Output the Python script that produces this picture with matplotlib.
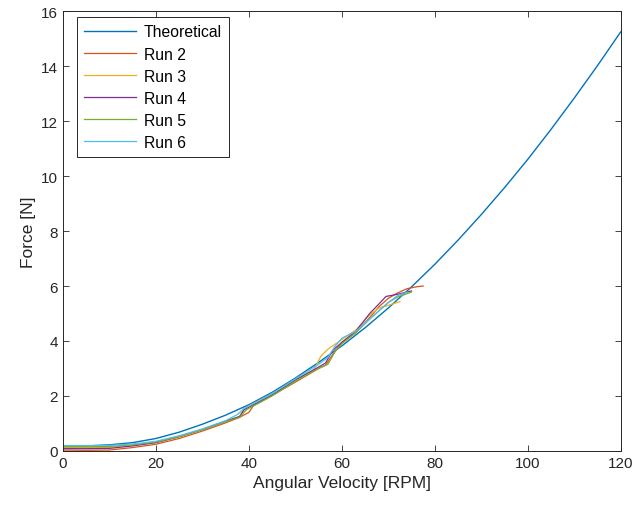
import matplotlib
matplotlib.use('Agg')
import matplotlib.pyplot as plt

# theoretical curve, read every 5 RPM
theo_w = [0, 5, 10, 15, 20, 25, 30, 35, 40, 45, 50, 55, 60, 65, 70, 75, 80,
          85, 90, 95, 100, 105, 110, 115, 120]
theo_f = [0.17, 0.18, 0.22, 0.30, 0.45, 0.68, 0.97, 1.30, 1.68, 2.13, 2.65,
          3.22, 3.82, 4.48, 5.20, 5.97, 6.79, 7.67, 8.60, 9.58, 10.61, 11.70,
          12.84, 14.02, 15.25]

run2_w = [0, 5, 10, 15, 20, 25, 30, 35, 38, 40, 41, 45, 50, 55, 56.5, 58, 60,
          63, 66, 68, 70, 72, 74, 76, 77.5]
run2_f = [0.03, 0.02, 0.03, 0.12, 0.24, 0.45, 0.72, 1.02, 1.22, 1.40, 1.65,
          2.02, 2.50, 3.00, 3.12, 3.50, 3.95, 4.30, 4.85, 5.25, 5.55, 5.75,
          5.90, 5.97, 6.0]

run3_w = [0, 5, 10, 15, 20, 25, 30, 35, 38, 39, 45, 50, 54, 55.5, 57, 60, 63,
          66, 68, 70, 72.5]
run3_f = [0.12, 0.12, 0.13, 0.20, 0.30, 0.50, 0.78, 1.08, 1.25, 1.55, 2.08,
          2.58, 2.95, 3.45, 3.70, 4.05, 4.40, 4.95, 5.20, 5.30, 5.43]

run4_w = [0, 5, 10, 15, 20, 25, 30, 35, 38, 39, 45, 50, 55, 56.5, 58, 60, 63,
          66, 68, 69.5, 72, 75]
run4_f = [0.08, 0.08, 0.09, 0.18, 0.30, 0.52, 0.78, 1.08, 1.25, 1.50, 2.03,
          2.58, 3.05, 3.20, 3.65, 3.95, 4.35, 5.00, 5.35, 5.62, 5.70, 5.82]

run5_w = [0, 5, 10, 15, 20, 25, 30, 35, 38, 39.5, 45, 50, 55, 57, 58.5, 60,
          63, 66, 68, 70, 72, 75]
run5_f = [0.15, 0.15, 0.16, 0.22, 0.32, 0.52, 0.77, 1.06, 1.22, 1.50, 2.00,
          2.53, 3.00, 3.15, 3.60, 3.90, 4.30, 4.80, 5.10, 5.40, 5.60, 5.78]

run6_w = [0, 5, 10, 15, 20, 25, 30, 35, 37.5, 39, 45, 50, 55, 57, 58.5, 60,
          63, 66, 68, 70, 72, 74]
run6_f = [0.19, 0.19, 0.20, 0.25, 0.35, 0.55, 0.80, 1.10, 1.32, 1.55, 2.08,
          2.62, 3.15, 3.40, 3.80, 4.10, 4.35, 4.80, 5.10, 5.40, 5.65, 5.78]

plt.rcParams['font.family'] = ['Liberation Sans', 'DejaVu Sans']

fig = plt.figure(figsize=(6.36, 5.10), dpi=100)
ax = fig.add_axes([0.099, 0.114, 0.877, 0.862])

ax.plot(theo_w, theo_f, color='#0072BD', lw=1.0, label='Theoretical')
ax.plot(run2_w, run2_f, color='#D95319', lw=0.9, label='Run 2')
ax.plot(run3_w, run3_f, color='#EDB120', lw=0.9, label='Run 3')
ax.plot(run4_w, run4_f, color='#7E2F8E', lw=0.9, label='Run 4')
ax.plot(run5_w, run5_f, color='#77AC30', lw=0.9, label='Run 5')
ax.plot(run6_w, run6_f, color='#4DBEEE', lw=0.9, label='Run 6')

ax.set_xlim(0, 120)
ax.set_ylim(0, 16)
ax.set_xticks(range(0, 121, 20))
ax.set_yticks(range(0, 17, 2))
ax.tick_params(direction='in', top=True, right=True, length=4.5, width=0.6,
               labelsize=11, colors='#262626')
for s in ax.spines.values():
    s.set_color('#262626')
    s.set_linewidth(0.7)

ax.set_xlabel('Angular Velocity [RPM]', fontsize=12.5, color='#262626')
ax.set_ylabel('Force [N]', fontsize=12.5, color='#262626')

leg = ax.legend(loc='upper left', fontsize=11.3, fancybox=False, framealpha=1,
                edgecolor='#262626', handlelength=3.3, borderpad=0.45,
                labelspacing=0.45, handletextpad=0.5, borderaxespad=0,
                bbox_to_anchor=(0.025, 0.986))
leg.get_frame().set_linewidth(0.7)

fig.savefig('out.png', dpi=100)
